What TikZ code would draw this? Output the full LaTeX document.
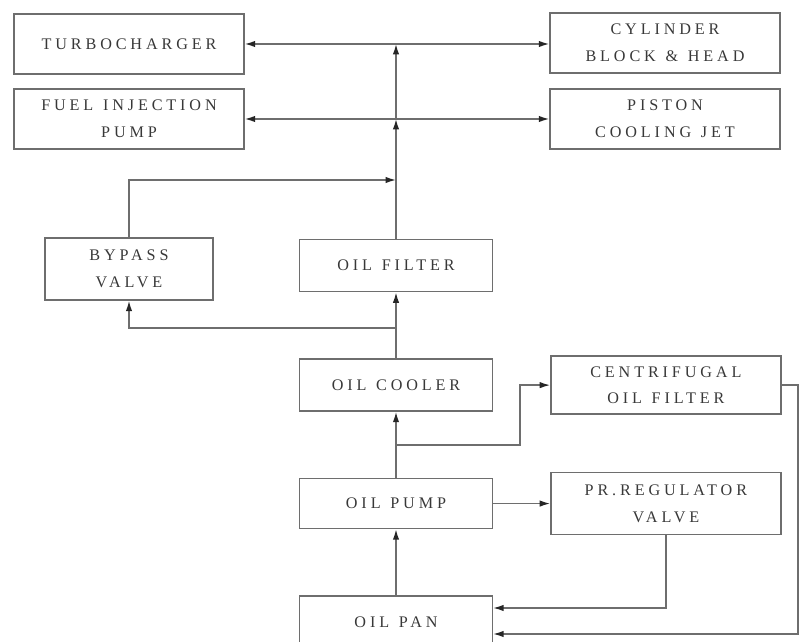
\documentclass[tikz,border=0pt]{standalone}
\usepackage{fontspec}
\setmainfont{Liberation Serif}[LetterSpace=24]
\usepackage{tikz}
\usetikzlibrary{arrows.meta, positioning}
\definecolor{linegray}{rgb}{0.43, 0.43, 0.43}
\definecolor{textgray}{rgb}{0.22, 0.22, 0.22}
\newcommand{\wsp}{\hspace{0.6em}}

\begin{document}
\begin{tikzpicture}[
		x=0.025cm, y=-0.025cm,
		node distance=1.65cm and 1.425cm,
		every node/.style={font=\fontsize{11.5}{19}\selectfont, text=textgray},
		box/.style={draw=linegray, line width=1pt, minimum width=4.82cm, minimum height=1.3cm, align=center, inner sep=2pt},
		widebox/.style={box, minimum width=5.75cm, minimum height=1.5cm},
		flow/.style={-{Latex[length=2.6mm, width=1.6mm, color=black!85]}, line width=1pt, linegray}
	]
	\useasboundingbox (0,0) rectangle (804,642);
	% main column
	\node[box] (pan) at (396,622) {OIL\wsp PAN};
	\node[box, minimum height=1.25cm, above=of pan] (pump) {OIL\wsp PUMP};
	\node[box, above=of pump] (cooler) {OIL\wsp COOLER};
	\node[box, above=of cooler] (filter) {OIL\wsp FILTER};
	% right column
	\node[widebox, minimum height=1.45cm, right=of cooler] (cent) {CENTRIFUGAL\\OIL\wsp FILTER};
	\node[widebox, minimum height=1.55cm, right=of pump] (prv) {PR.REGULATOR\\VALVE};
	% top row and bypass
	\node[widebox] (turbo) at (129,44) {TURBOCHARGER};
	\node[widebox] (fuel) at (129,119) {FUEL\wsp INJECTION\\PUMP};
	\node[widebox] (cyl) at (665,43) {CYLINDER\\BLOCK\wsp \&\wsp HEAD};
	\node[widebox] (piston) at (665,119) {PISTON\\COOLING\wsp JET};
	\node[box, minimum width=4.2cm, minimum height=1.55cm] (bypass) at (129,269) {BYPASS\\VALVE};

	\coordinate (jturbo) at (filter.north |- turbo.east);
	\coordinate (jfuel) at (filter.north |- fuel.east);
	\coordinate (jby) at (396,180);
	\coordinate (jcool) at (396,328);
	\coordinate (jcent) at (396,445);
	\coordinate (bend) at (520,445);
	\coordinate (ret) at (798,634);

	% delivery to the engine
	\draw[flow] (filter.north) -- (jfuel);
	\draw[flow] (jfuel) -- (jturbo);
	\draw[flow] (jturbo) -- (turbo.east);
	\draw[flow] (jturbo) -- (jturbo -| cyl.west);
	\draw[flow] (jfuel) -- (fuel.east);
	\draw[flow] (jfuel) -- (jfuel -| piston.west);
	% bypass loop
	\draw[flow] (bypass.north) |- (jby);
	\draw[flow] (jcool) -| (bypass.south);
	\draw[flow] (cooler.north) -- (filter.south);
	% pump outlet
	\draw[flow] (pump.north) -- (cooler.south);
	\draw[flow] (jcent) -- (bend) |- (cent.west);
	\draw[flow] (pump) -- (prv);
	\draw[flow] (pan) -- (pump);
	% returns to the pan
	\draw[flow] (prv.south) |- ([yshift=0.35cm]pan.east);
	\draw[flow] (cent.east) -| (ret) -- (ret -| pan.east);
\end{tikzpicture}
\end{document}
